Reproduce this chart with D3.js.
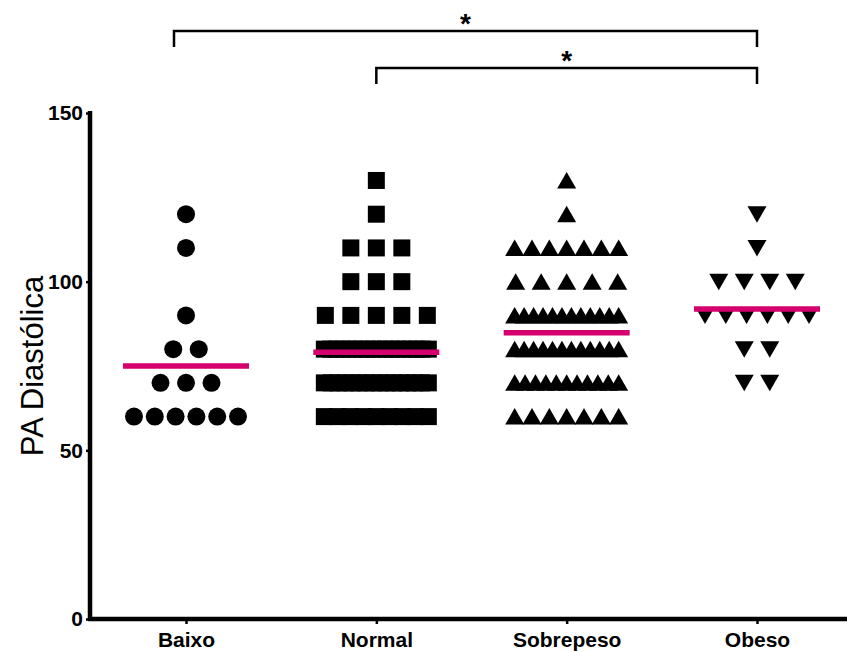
<!DOCTYPE html>
<html>
<head>
<meta charset="utf-8">
<script src="https://cdn.jsdelivr.net/npm/d3@7"></script>
<style>
  html, body { margin: 0; padding: 0; background: #fff; }
  svg { display: block; }
  text { font-family: "Liberation Sans", Arial, sans-serif; }
</style>
</head>
<body>
<svg id="chart" width="847" height="652"></svg>
<script>
// Groups along the x axis
const categories = ["Baixo", "Normal", "Sobrepeso", "Obeso"];

// Diastolic pressure readings per group (mmHg)
const baixoValues = [120, 110, 90, 80, 80, 70, 70, 70, 60, 60, 60, 60, 60, 60];
const normalValues = [
  130, 120, 110, 110, 110, 100, 100, 100, 90, 90, 90, 90, 90,
  80, 80, 80, 80, 80, 80, 80, 80, 80, 80, 80, 80, 80, 80, 80, 80, 80, 80,
  70, 70, 70, 70, 70, 70, 70, 70, 70, 70, 70, 70, 70, 70, 70, 70,
  60, 60, 60, 60, 60, 60, 60, 60, 60
];
const sobrepesoValues = [
  130, 120,
  110, 110, 110, 110, 110, 110, 110,
  100, 100, 100, 100, 100,
  90, 90, 90, 90, 90, 90, 90, 90, 90, 90, 90, 90,
  80, 80, 80, 80, 80, 80, 80, 80, 80, 80, 80, 80,
  70, 70, 70, 70, 70, 70, 70, 70, 70, 70, 70,
  60, 60, 60, 60, 60, 60, 60
];
const obesoValues = [120, 110, 100, 100, 100, 100, 90, 90, 90, 90, 90, 90, 80, 80, 70, 70];

// Y axis ticks
const yTicks = [0, 50, 100, 150];

// Significance brackets: [from group, to group, label]
const brackets = [
  ["Baixo", "Obeso", "*"],
  ["Normal", "Obeso", "*"]
];

const groupValues = [baixoValues, normalValues, sobrepesoValues, obesoValues];
const symbolKinds = ["circle", "square", "triangleUp", "triangleDown"];

const svg = d3.select("#chart");
const axisX = 90, axisY = 619, rightEdge = 847;

const y = d3.scaleLinear().domain([0, 150]).range([axisY, 113]);
const x = d3.scalePoint().domain(categories).range([186, 757]);

// Marker outlines, in pixels around the point
const half = 8.5;
function symbolPath(kind) {
  const p = d3.path();
  if (kind === "circle") {
    p.arc(0, 0, 9, 0, 2 * Math.PI);
  } else if (kind === "square") {
    p.rect(-half, -half, 2 * half, 2 * half);
  } else if (kind === "triangleUp") {
    p.moveTo(0, -8.5); p.lineTo(9.5, 8); p.lineTo(-9.5, 8); p.closePath();
  } else {
    p.moveTo(0, 8.5); p.lineTo(9.5, -8); p.lineTo(-9.5, -8); p.closePath();
  }
  return p.toString();
}

// Spread points of equal value horizontally, compressing wide rows
const naturalStep = 25.5, maxSpan = 104;
function layout(values) {
  const rows = d3.group(values, v => v);
  const pts = [];
  for (const [v, arr] of rows) {
    const n = arr.length;
    const step = n > 1 ? Math.min(naturalStep, maxSpan / (n - 1)) : 0;
    arr.forEach((_, i) => pts.push({ v, dx: (i - (n - 1) / 2) * step }));
  }
  return pts;
}

// Points
categories.forEach((cat, gi) => {
  const g = svg.append("g").attr("class", "group");
  g.selectAll("path")
    .data(layout(groupValues[gi]))
    .join("path")
    .attr("d", symbolPath(symbolKinds[gi]))
    .attr("transform", d => `translate(${x(cat) + d.dx},${y(d.v)})`)
    .attr("fill", "#000");
});

// Mean lines
const meanHalf = 63;
svg.append("g").selectAll("line")
  .data(categories.map((c, i) => ({ c, m: d3.mean(groupValues[i]) })))
  .join("line")
  .attr("x1", d => x(d.c) - meanHalf)
  .attr("x2", d => x(d.c) + meanHalf)
  .attr("y1", d => y(d.m))
  .attr("y2", d => y(d.m))
  .attr("stroke", "#d4006e")
  .attr("stroke-width", 5.5);

// Y axis
const yAxis = svg.append("g")
  .attr("transform", `translate(${axisX},0)`)
  .call(d3.axisLeft(y).tickValues(yTicks).tickSize(4).tickSizeOuter(0).tickPadding(3));
yAxis.select(".domain").remove();
yAxis.selectAll(".tick line").attr("stroke", "#000").attr("stroke-width", 2.5);
yAxis.selectAll(".tick text")
  .attr("font-size", 21).attr("font-weight", "bold").attr("fill", "#000")
  .attr("font-family", "Liberation Sans, Arial, sans-serif");

// X axis
const xAxis = svg.append("g")
  .attr("transform", `translate(0,${axisY})`)
  .call(d3.axisBottom(x).tickSize(5).tickSizeOuter(0).tickPadding(8));
xAxis.select(".domain").remove();
xAxis.selectAll(".tick line").attr("stroke", "#000").attr("stroke-width", 2.5);
xAxis.selectAll(".tick text")
  .attr("font-size", 21).attr("font-weight", "bold").attr("fill", "#000")
  .attr("font-family", "Liberation Sans, Arial, sans-serif");

// Axis lines
svg.append("path")
  .attr("d", `M${axisX},${y(150) - 2}V${axisY}H${rightEdge}`)
  .attr("fill", "none").attr("stroke", "#000").attr("stroke-width", 4.5)
  .attr("stroke-linejoin", "miter");

// Y title
svg.append("text")
  .attr("transform", `translate(43,${(y(0) + y(150)) / 2}) rotate(-90)`)
  .attr("text-anchor", "middle")
  .attr("font-size", 31)
  .attr("fill", "#000")
  .text("PA Diastólica");

// Significance brackets
const bracketLevels = [31, 68];
const leftNudge = [12, 0];
brackets.forEach(([a, b, label], i) => {
  const x1 = x(a) - leftNudge[i], x2 = x(b), yy = bracketLevels[i];
  svg.append("path")
    .attr("d", `M${x1},${yy + 16}V${yy}H${x2}V${yy + 16}`)
    .attr("fill", "none").attr("stroke", "#000").attr("stroke-width", 2.5);
  svg.append("text")
    .attr("x", (x1 + x2) / 2)
    .attr("y", yy + 2)
    .attr("text-anchor", "middle")
    .attr("font-size", 28)
    .attr("font-weight", "bold")
    .attr("fill", "#000")
    .text(label);
});
</script>
</body>
</html>
